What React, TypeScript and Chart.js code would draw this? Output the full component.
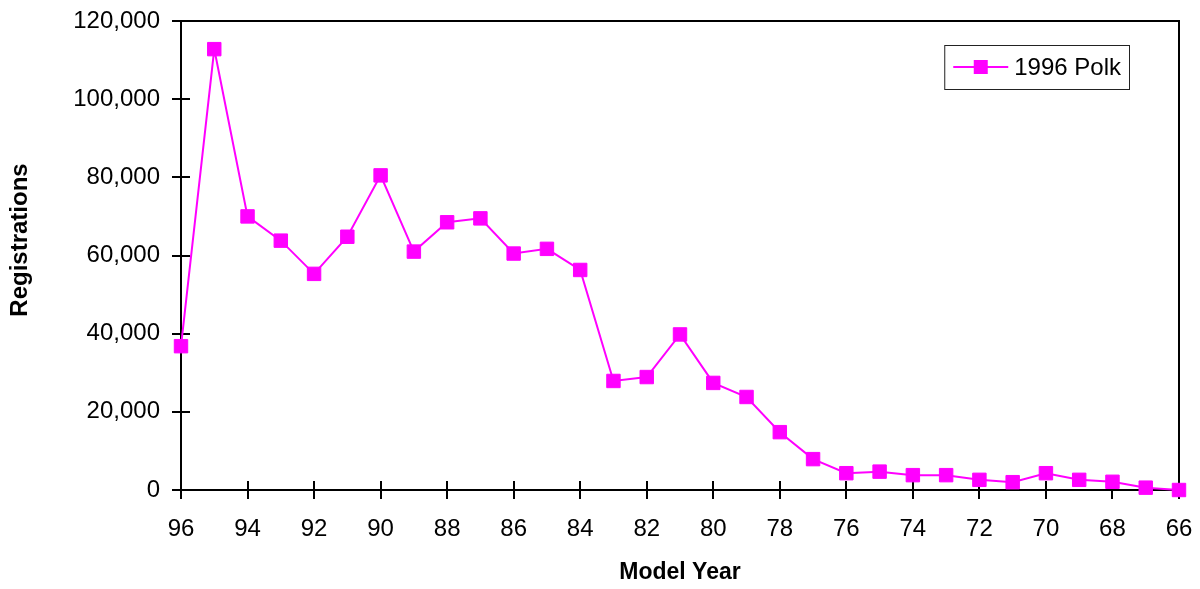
import React, { useEffect, useRef } from 'react';
import { Chart, registerables } from 'chart.js';

Chart.register(...registerables);

const modelYears = ['96', '95', '94', '93', '92', '91', '90', '89', '88', '87', '86', '85', '84', '83', '82', '81', '80', '79', '78', '77', '76', '75', '74', '73', '72', '71', '70', '69', '68', '67', '66'];
const registrations = [36800, 112800, 70000, 63800, 55300, 64800, 80500, 61000, 68500, 69500, 60500, 61700, 56300, 27900, 28900, 39800, 27400, 23800, 14800, 7900, 4300, 4700, 3800, 3800, 2600, 2000, 4300, 2600, 2100, 600, 0];
const seriesLabel = '1996 Polk';
const xTitle = 'Model Year';
const yTitle = 'Registrations';
const yMin = 0;
const yMax = 120000;
const yStep = 20000;

const FONT = "'Liberation Sans', Arial, Helvetica, sans-serif";
const MAGENTA = '#FF00FF';

const framePlugin = {
  id: 'frame',
  beforeDatasetsDraw(chart: any) {
    const { ctx, chartArea } = chart;
    const { left, right, top, bottom } = chartArea;
    ctx.save();
    ctx.strokeStyle = '#000';
    ctx.lineWidth = 2;
    ctx.strokeRect(left, top, right - left, bottom - top);
    // inner halves of crossing tick marks
    const xs = chart.scales.x;
    xs.ticks.forEach((t: any, i: number) => {
      if (t.label === null || t.label === undefined || t.label === '') return;
      const px = Math.round(xs.getPixelForTick(i));
      ctx.beginPath();
      ctx.moveTo(px, bottom);
      ctx.lineTo(px, bottom - 9);
      ctx.stroke();
    });
    const ys = chart.scales.y;
    ys.ticks.forEach((t: any, i: number) => {
      const py = Math.round(ys.getPixelForTick(i));
      ctx.beginPath();
      ctx.moveTo(left, py);
      ctx.lineTo(left + 9, py);
      ctx.stroke();
    });
    ctx.restore();
  },
  afterDraw(chart: any) {
    const { ctx, chartArea } = chart;
    ctx.save();
    // y axis title
    ctx.font = `bold 24px ${FONT}`;
    ctx.fillStyle = '#000';
    ctx.textAlign = 'center';
    ctx.textBaseline = 'middle';
    ctx.translate(20, 240);
    ctx.rotate(-Math.PI / 2);
    ctx.fillText(yTitle, 0, 0);
    ctx.restore();

    // legend box inside the plot area
    ctx.save();
    const label = chart.data.datasets[0].label;
    ctx.font = `24px ${FONT}`;
    const tw = ctx.measureText(label).width;
    const boxW = 9 + 55 + 6 + tw + 8;
    const boxH = 44;
    const bx = chartArea.right - 50 - boxW;
    const by = chartArea.top + 24;
    ctx.fillStyle = '#fff';
    ctx.fillRect(bx, by, boxW, boxH);
    ctx.strokeStyle = '#222';
    ctx.lineWidth = 1;
    ctx.strokeRect(bx + 0.5, by + 0.5, boxW, boxH);
    const cy = by + boxH / 2;
    ctx.strokeStyle = MAGENTA;
    ctx.lineWidth = 2;
    ctx.beginPath();
    ctx.moveTo(bx + 9, cy);
    ctx.lineTo(bx + 64, cy);
    ctx.stroke();
    ctx.fillStyle = MAGENTA;
    ctx.fillRect(bx + 36.5 - 7, cy - 7, 14, 14);
    ctx.fillStyle = '#000';
    ctx.textAlign = 'left';
    ctx.textBaseline = 'middle';
    ctx.fillText(label, bx + 70, cy + 1);
    ctx.restore();
  },
};

export default function App() {
  const canvasRef = useRef<HTMLCanvasElement | null>(null);

  useEffect(() => {
    if (!canvasRef.current) return;
    const chart = new Chart(canvasRef.current, {
      type: 'line',
      data: {
        labels: modelYears,
        datasets: [
          {
            label: seriesLabel,
            data: registrations,
            borderColor: MAGENTA,
            backgroundColor: MAGENTA,
            borderWidth: 2,
            pointStyle: 'rect',
            pointRadius: 9.5,
            pointHoverRadius: 9.5,
            pointBorderWidth: 1,
            pointBackgroundColor: MAGENTA,
            pointBorderColor: MAGENTA,
            tension: 0,
            clip: false as any,
          },
        ],
      },
      options: {
        responsive: false,
        animation: false,
        layout: { padding: { left: 0, top: 21, right: 21, bottom: 0 } },
        plugins: {
          legend: { display: false },
          tooltip: { enabled: false },
        },
        scales: {
          x: {
            type: 'category',
            offset: false,
            afterFit: (s: any) => {
              s.height = 99;
              s.paddingLeft = 0;
              s.paddingRight = 0;
            },
            grid: {
              drawOnChartArea: false,
              drawTicks: true,
              tickLength: 9,
              color: '#000',
              lineWidth: 2,
            },
            border: { display: true, color: '#000', width: 2 },
            ticks: {
              autoSkip: false,
              maxRotation: 0,
              padding: 16,
              color: '#000',
              font: { family: FONT, size: 24 },
              callback: function (this: any, value: any) {
                const lbl = modelYears[value as number];
                return parseInt(lbl, 10) % 2 === 0 ? lbl : null;
              },
            },
            title: {
              display: true,
              text: xTitle,
              color: '#000',
              font: { family: FONT, size: 23, weight: 'bold' },
              padding: { top: 0, bottom: 3 },
            },
          },
          y: {
            min: yMin,
            max: yMax,
            afterFit: (s: any) => {
              s.width = 181;
              s.paddingTop = 0;
              s.paddingBottom = 0;
            },
            grid: {
              drawOnChartArea: false,
              drawTicks: true,
              tickLength: 9,
              color: '#000',
              lineWidth: 2,
            },
            border: { display: true, color: '#000', width: 2 },
            ticks: {
              stepSize: yStep,
              padding: 12,
              color: '#000',
              font: { family: FONT, size: 24 },
              callback: (v: any) => Number(v).toLocaleString('en-US'),
            },
            title: { display: false, text: yTitle },
          },
        },
      },
      plugins: [framePlugin],
    });
    return () => chart.destroy();
  }, []);

  return (
    <div style={{ position: 'fixed', left: 0, top: 0, width: 1200, height: 589, background: '#fff' }}>
      <canvas ref={canvasRef} width={1200} height={589} style={{ display: 'block' }} />
    </div>
  );
}
